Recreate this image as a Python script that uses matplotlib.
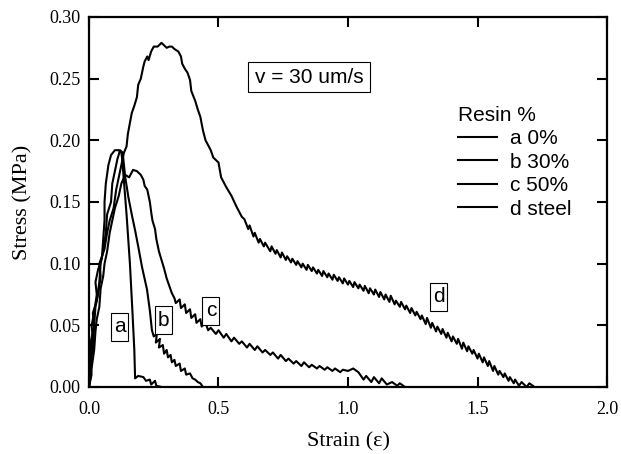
import matplotlib
matplotlib.use("Agg")
import matplotlib.pyplot as plt
import matplotlib.transforms as mtransforms
from matplotlib.patches import Rectangle

# strain / stress traces
a_x = [0.0, 0.01, 0.005, 0.015, 0.01, 0.02, 0.03, 0.025, 0.035, 0.05, 0.055, 0.06, 0.06, 0.065, 0.075, 0.085,
       0.10, 0.115, 0.125, 0.128, 0.145, 0.158, 0.168, 0.175, 0.178, 0.19, 0.21, 0.22, 0.235, 0.24, 0.255, 0.26, 0.28]
a_y = [0.0, 0.01, 0.025, 0.04, 0.05, 0.06, 0.075, 0.085, 0.095, 0.105, 0.12, 0.135, 0.15, 0.165, 0.18, 0.188,
       0.192, 0.192, 0.19, 0.185, 0.14, 0.10, 0.06, 0.03, 0.007, 0.009, 0.008, 0.005, 0.006, 0.002, 0.005, 0.001, 0.0]

b_x = [0.0, 0.005, 0.015, 0.02, 0.015, 0.03, 0.04, 0.045, 0.055, 0.065, 0.07, 0.085, 0.09, 0.10, 0.11, 0.12,
       0.13, 0.14, 0.152, 0.165, 0.178, 0.19, 0.205, 0.224, 0.235, 0.243, 0.25, 0.262, 0.258, 0.274, 0.27, 0.285,
       0.29, 0.30, 0.305, 0.315, 0.32, 0.33, 0.335, 0.35, 0.355, 0.37, 0.375, 0.39, 0.40, 0.41, 0.42, 0.43, 0.44]
b_y = [0.0, 0.02, 0.03, 0.05, 0.06, 0.07, 0.085, 0.10, 0.11, 0.125, 0.14, 0.15, 0.165, 0.175, 0.185, 0.192,
       0.19, 0.17, 0.154, 0.14, 0.127, 0.114, 0.097, 0.079, 0.062, 0.046, 0.041, 0.043, 0.036, 0.039, 0.032, 0.034,
       0.027, 0.030, 0.024, 0.026, 0.020, 0.022, 0.017, 0.019, 0.013, 0.015, 0.010, 0.011, 0.007, 0.006, 0.004, 0.003, 0.0]

c_x = [0.0, 0.01, 0.02, 0.025, 0.03, 0.04, 0.045, 0.055, 0.06, 0.07, 0.08, 0.09, 0.10, 0.115, 0.125, 0.14,
       0.155, 0.17, 0.185, 0.20, 0.21, 0.215, 0.225, 0.235, 0.24, 0.245, 0.255, 0.26, 0.27, 0.28, 0.29, 0.30,
       0.31, 0.32, 0.33, 0.335, 0.35, 0.355, 0.37, 0.375, 0.39, 0.395, 0.41, 0.415, 0.43, 0.435, 0.45, 0.46,
       0.47, 0.49, 0.50, 0.52, 0.53, 0.55, 0.56, 0.58, 0.59, 0.61, 0.62, 0.64, 0.65, 0.67, 0.68, 0.70, 0.71,
       0.73, 0.74, 0.76, 0.77, 0.79, 0.80, 0.82, 0.83, 0.85, 0.86, 0.88, 0.89, 0.91, 0.92, 0.94, 0.95, 0.97,
       0.98, 1.00, 1.02, 1.04, 1.06, 1.07, 1.09, 1.10, 1.12, 1.13, 1.15, 1.17, 1.19, 1.20, 1.22]
c_y = [0.0, 0.015, 0.03, 0.045, 0.055, 0.065, 0.08, 0.09, 0.10, 0.11, 0.125, 0.135, 0.145, 0.155, 0.165, 0.172,
       0.170, 0.176, 0.175, 0.172, 0.168, 0.163, 0.160, 0.150, 0.142, 0.135, 0.128, 0.120, 0.110, 0.103, 0.096, 0.088,
       0.082, 0.076, 0.072, 0.068, 0.071, 0.064, 0.067, 0.060, 0.063, 0.056, 0.059, 0.052, 0.055, 0.049, 0.052, 0.046,
       0.048, 0.043, 0.046, 0.040, 0.043, 0.037, 0.040, 0.035, 0.037, 0.032, 0.035, 0.030, 0.033, 0.028, 0.030, 0.026,
       0.028, 0.023, 0.026, 0.021, 0.023, 0.019, 0.021, 0.017, 0.020, 0.016, 0.018, 0.015, 0.017, 0.014, 0.016, 0.013,
       0.015, 0.012, 0.014, 0.013, 0.015, 0.012, 0.006, 0.009, 0.004, 0.008, 0.003, 0.007, 0.002, 0.004, 0.001, 0.003, 0.0]

d_x = [0.0, 0.01, 0.005, 0.02, 0.025, 0.035, 0.045, 0.04, 0.06, 0.07, 0.08, 0.095, 0.105, 0.115, 0.125, 0.135,
       0.145, 0.15, 0.158, 0.165, 0.175, 0.185, 0.19, 0.20, 0.21, 0.215, 0.225, 0.23, 0.24, 0.25, 0.265, 0.28,
       0.29, 0.30, 0.31, 0.32, 0.33, 0.345, 0.355, 0.36, 0.37, 0.38, 0.39, 0.395, 0.41, 0.42, 0.43, 0.44, 0.45,
       0.47, 0.48, 0.50, 0.51, 0.53, 0.55, 0.57, 0.59,
       0.60, 0.615, 0.62, 0.635, 0.64, 0.655, 0.66, 0.675, 0.68, 0.70, 0.705, 0.72, 0.725, 0.74, 0.745, 0.76,
       0.765, 0.78, 0.785, 0.80, 0.805, 0.82, 0.825, 0.84, 0.845, 0.86, 0.865, 0.88, 0.885, 0.90, 0.905, 0.92,
       0.925, 0.94, 0.945, 0.96, 0.965, 0.98, 0.985, 1.00, 1.005, 1.02, 1.025, 1.04, 1.045, 1.06, 1.065, 1.08,
       1.085, 1.10, 1.105, 1.12, 1.125, 1.14, 1.145, 1.16, 1.165, 1.18, 1.185, 1.20, 1.205, 1.22, 1.225, 1.24,
       1.245, 1.26, 1.265, 1.28, 1.285, 1.30, 1.305, 1.32, 1.325, 1.34, 1.345, 1.36, 1.365, 1.38, 1.385, 1.40,
       1.405, 1.42, 1.425, 1.44, 1.445, 1.46, 1.465, 1.48, 1.485, 1.50, 1.505, 1.52, 1.525, 1.54, 1.545, 1.56,
       1.565, 1.58, 1.585, 1.60, 1.605, 1.62, 1.625, 1.64, 1.645, 1.66, 1.67, 1.69, 1.70, 1.72]
d_y = [0.0, 0.02, 0.035, 0.05, 0.065, 0.075, 0.09, 0.10, 0.112, 0.125, 0.135, 0.145, 0.16, 0.17, 0.18, 0.19,
       0.195, 0.205, 0.214, 0.222, 0.228, 0.235, 0.245, 0.25, 0.26, 0.264, 0.268, 0.265, 0.272, 0.276, 0.276, 0.279,
       0.277, 0.275, 0.276, 0.276, 0.274, 0.272, 0.268, 0.262, 0.258, 0.255, 0.249, 0.24, 0.232, 0.225, 0.219, 0.208, 0.200,
       0.192, 0.186, 0.182, 0.170, 0.162, 0.155, 0.146, 0.138,
       0.136, 0.128, 0.131, 0.122, 0.125, 0.117, 0.120, 0.114, 0.117, 0.110, 0.114, 0.108, 0.111, 0.105, 0.109, 0.103,
       0.106, 0.101, 0.104, 0.099, 0.102, 0.097, 0.100, 0.095, 0.099, 0.094, 0.097, 0.092, 0.095, 0.090, 0.094, 0.089,
       0.092, 0.087, 0.091, 0.086, 0.089, 0.084, 0.088, 0.083, 0.086, 0.081, 0.085, 0.080, 0.083, 0.078, 0.082, 0.076,
       0.080, 0.075, 0.079, 0.073, 0.077, 0.071, 0.075, 0.069, 0.074, 0.067, 0.070, 0.065, 0.069, 0.063, 0.066, 0.060,
       0.064, 0.058, 0.061, 0.055, 0.058, 0.051, 0.056, 0.048, 0.052, 0.045, 0.049, 0.043, 0.047, 0.040, 0.044, 0.037,
       0.041, 0.035, 0.039, 0.031, 0.036, 0.029, 0.033, 0.027, 0.030, 0.023, 0.027, 0.020, 0.024, 0.017, 0.021, 0.013,
       0.017, 0.010, 0.013, 0.008, 0.011, 0.005, 0.008, 0.003, 0.006, 0.001, 0.004, 0.0, 0.003, 0.0]

labels = ["a 0%", "b 30%", "c 50%", "d steel"]
tags = ["a", "b", "c", "d"]
tag_pos = [(0.118, 0.049), (0.288, 0.054), (0.471, 0.062), (1.35, 0.073)]

serif = "Liberation Serif"
sans = "Liberation Sans"

fig = plt.figure(figsize=(6.21, 4.54), dpi=100)
ax = fig.add_axes([0.1433, 0.1476, 0.8342, 0.815])

for xs, ys, lab in zip([a_x, b_x, c_x, d_x], [a_y, b_y, c_y, d_y], labels):
    ax.plot(xs, ys, color="black", lw=1.5, label=lab)


def boxed(x, y, s, w, h):
    # text in a fixed-size (pixel) white box, centred on a data point
    tr = mtransforms.Affine2D() + mtransforms.ScaledTranslation(x, y, ax.transData)
    ax.add_patch(Rectangle((-w / 2, -h / 2), w, h, transform=tr, fc="white", ec="black", lw=0.8, zorder=3))
    ax.text(x, y, s, fontfamily=sans, fontsize=15, ha="center", va="center", zorder=4)


for t, (tx, ty) in zip(tags, tag_pos):
    boxed(tx, ty, t, 17, 28)

boxed(0.85, 0.251, "v = 30 um/s", 122, 30)

leg = ax.legend(title="Resin %", loc="upper left", bbox_to_anchor=(0.712, 0.760), frameon=False,
                prop={"family": sans, "size": 15}, title_fontproperties={"family": sans, "size": 15},
                handlelength=1.9, handletextpad=0.6, labelspacing=0.215, borderpad=0, borderaxespad=0,
                alignment="left")

ax.set_xlim(0, 2.0)
ax.set_ylim(0, 0.30)
ax.set_xticks([0.0, 0.5, 1.0, 1.5, 2.0])
ax.set_yticks([0.0, 0.05, 0.10, 0.15, 0.20, 0.25, 0.30])
ax.set_xticklabels(["0.0", "0.5", "1.0", "1.5", "2.0"], fontfamily=serif, fontsize=13)
ax.set_yticklabels(["0.00", "0.05", "0.10", "0.15", "0.20", "0.25", "0.30"], fontfamily=serif, fontsize=13)
ax.tick_params(direction="in", length=7, width=1.5, top=True, right=True, pad=6)
ax.tick_params(axis="x", pad=10)
for s in ax.spines.values():
    s.set_linewidth(1.6)

ax.set_xlabel("Strain (ε)", fontfamily=serif, fontsize=16, labelpad=10)
ax.set_ylabel("Stress (MPa)", fontfamily=serif, fontsize=16, labelpad=12)

fig.savefig("out.png", dpi=100)
